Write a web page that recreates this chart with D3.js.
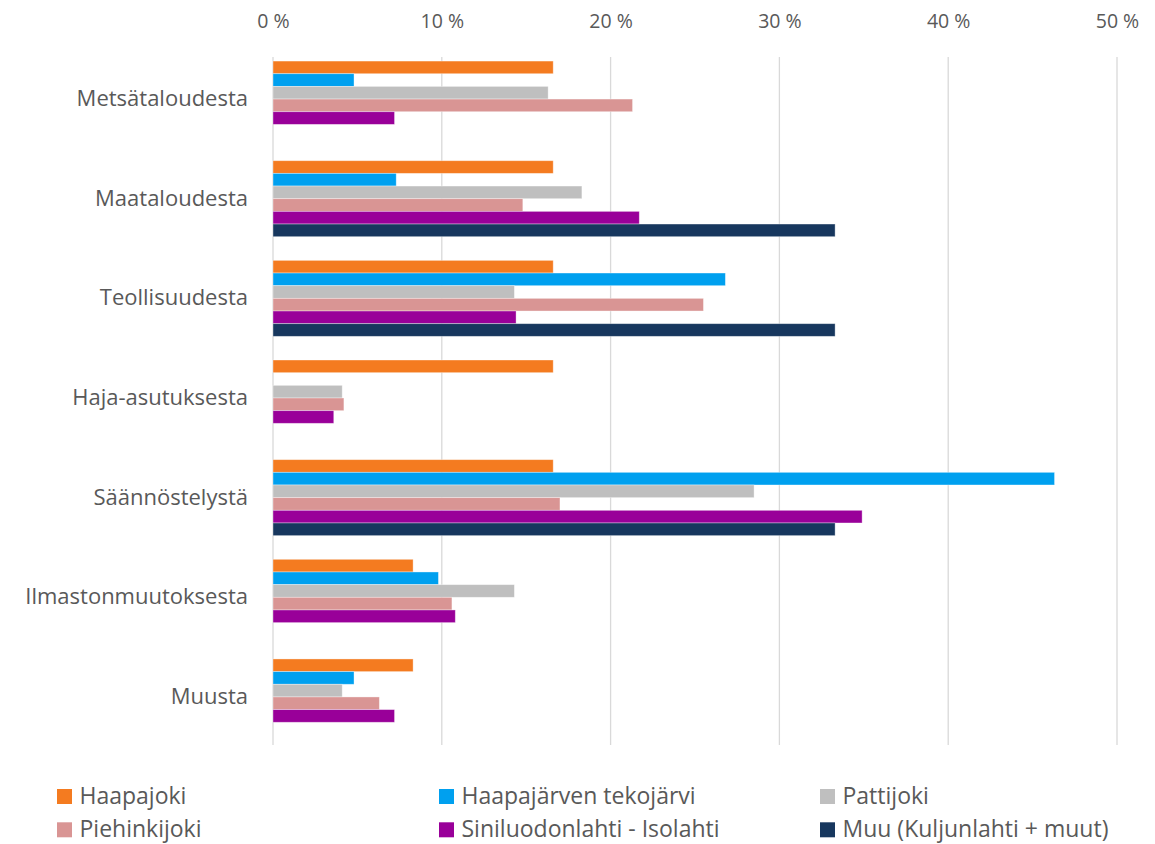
<!DOCTYPE html>
<html><head><meta charset="utf-8">
<script src="https://cdn.jsdelivr.net/npm/d3@7"></script>
<style>body{margin:0;background:#fff;} svg{display:block;}</style>
</head><body>
<svg id="chart" width="1155" height="844"></svg>
<script>
const categories = ["Metsätaloudesta","Maataloudesta","Teollisuudesta","Haja-asutuksesta","Säännöstelystä","Ilmastonmuutoksesta","Muusta"];
const seriesNames = ["Haapajoki","Haapajärven tekojärvi","Pattijoki","Piehinkijoki","Siniluodonlahti - Isolahti","Muu (Kuljunlahti + muut)"];
const haapajoki   = [16.6, 16.6, 16.6, 16.6, 16.6, 8.3, 8.3];
const tekojarvi   = [4.8, 7.3, 26.8, 0, 46.3, 9.8, 4.8];
const pattijoki   = [16.3, 18.3, 14.3, 4.1, 28.5, 14.3, 4.1];
const piehinkijoki= [21.3, 14.8, 25.5, 4.2, 17.0, 10.6, 6.3];
const siniluodon  = [7.2, 21.7, 14.4, 3.6, 34.9, 10.8, 7.2];
const muu         = [0, 33.3, 33.3, 0, 33.3, 0, 0];
const tickValues  = [0, 10, 20, 30, 40, 50];
const colors = ["#F47B20","#00A0EF","#BFBFBF","#D99594","#990099","#17375E"];

const seriesValues = [haapajoki, tekojarvi, pattijoki, piehinkijoki, siniluodon, muu];
const svg = d3.select("#chart");
const FONT = "'Open Sans', sans-serif";
const textColor = "#595959";

const x = d3.scaleLinear().domain([0, 50]).range([273, 1117]);
const y0 = d3.scaleBand().domain(categories).range([49.2, 746.8]).paddingInner(0.2375).paddingOuter(0.119);
const y1 = d3.scaleBand().domain(seriesNames).range([0, y0.bandwidth()]);

// gridlines
svg.append("g").selectAll("line").data(tickValues).join("line")
  .attr("x1", d => x(d)).attr("x2", d => x(d))
  .attr("y1", 57).attr("y2", 745)
  .attr("stroke", "#D9D9D9").attr("stroke-width", 1.3);

// top axis labels
const xAxis = d3.axisTop(x).tickValues(tickValues).tickSize(0).tickFormat(d => d + " %");
const ga = svg.append("g").attr("transform", "translate(0,27.7)").call(xAxis);
ga.select(".domain").remove();
ga.selectAll("text").attr("font-family", FONT).attr("font-size", 19.5).attr("fill", textColor).attr("y", 0).attr("dy", 0);

// bars
const groups = svg.append("g").selectAll("g").data(categories).join("g")
  .attr("transform", c => `translate(0,${y0(c)})`);
groups.selectAll("rect").data((c, i) => seriesNames.map((s, j) => ({s, j, v: seriesValues[j][i]})))
  .join("rect")
  .filter(d => d.v > 0)
  .attr("x", x(0))
  .attr("y", d => y1(d.s))
  .attr("width", d => x(d.v) - x(0))
  .attr("height", y1.bandwidth())
  .attr("fill", d => colors[d.j])
  .attr("stroke", "rgba(255,255,255,0.45)").attr("stroke-width", 0.8);

// category labels
const yAxis = d3.axisLeft(y0).tickSize(0).tickPadding(25);
const gy = svg.append("g").attr("transform", `translate(${x(0)},0)`).call(yAxis);
gy.select(".domain").remove();
gy.selectAll("text").attr("font-family", FONT).attr("font-size", 22).attr("fill", textColor);

// legend
const legX = [57, 439, 820];
const legY = [804, 837.3];
const leg = svg.append("g").selectAll("g").data(seriesNames).join("g")
  .attr("transform", (d, i) => `translate(${legX[i % 3]},${legY[Math.floor(i / 3)]})`);
leg.append("rect").attr("x", 0).attr("y", -15).attr("width", 15).attr("height", 15)
  .attr("fill", (d, i) => colors[i]);
leg.append("text").attr("x", 22.5).attr("y", 0)
  .attr("font-family", FONT).attr("font-size", 23).attr("fill", textColor).text(d => d);
</script>
</body></html>
